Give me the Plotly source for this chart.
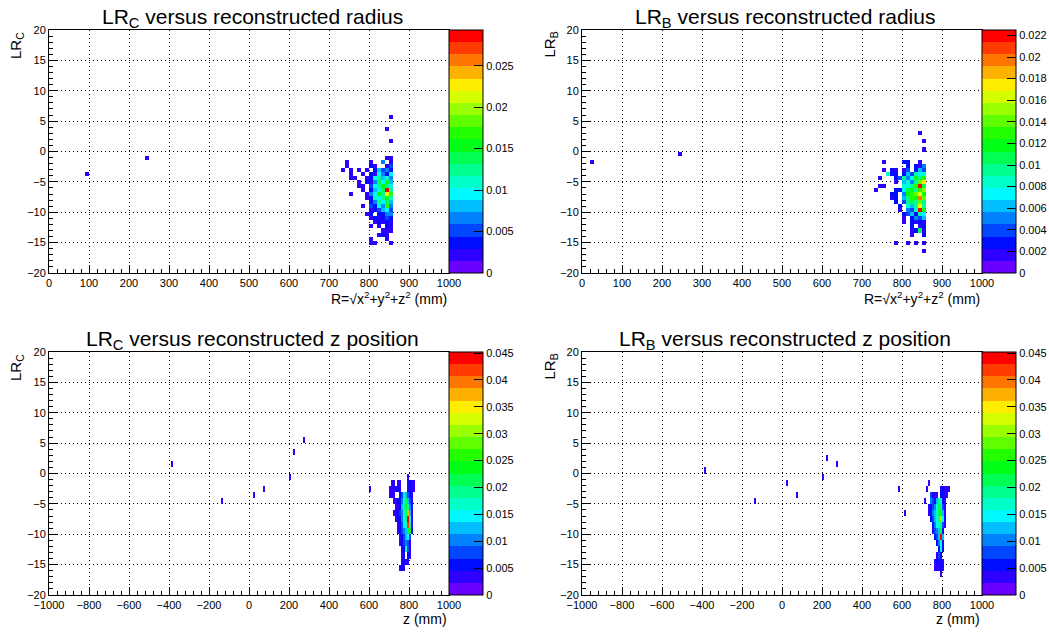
import colorsys
import numpy as np
import plotly.graph_objects as go

W, H = 1049, 633

# ------------------------------------------------------------------ data
# top row: x = reconstructed radius R (mm), bins 10 mm; y = LR, bins 2/3
TOP_COLS = [735, 745, 755, 765, 775, 785, 795, 805, 815, 825, 835, 845, 855]

TL_ROWS = [-1.0, -1.667, -2.333, -3.0, -3.667, -4.333, -5.0, -5.667, -6.333,
           -7.0, -7.667, -8.333, -9.0, -9.667, -10.333, -11.0, -11.667,
           -12.333, -13.0, -13.667, -14.333, -15.0]
# bin contents in units of 1e-3
TL_VALS = [
    [0, 0, 0, 0, 0, 0, 0, 0, 0, 0, 0, 2, 2],
    [0, 2, 0, 0, 0, 0, 0, 2, 0, 0, 6, 0, 2],
    [0, 2, 0, 0, 0, 0, 0, 3, 2, 0, 0, 2, 5],
    [2, 0, 2, 0, 2, 0, 2, 0, 4, 8, 5, 7, 4],
    [0, 0, 2, 0, 0, 2, 0, 3, 2, 10, 7, 4, 9],
    [0, 0, 2, 2, 0, 0, 2, 4, 9, 13, 8, 11, 6],
    [0, 0, 0, 0, 2, 0, 3, 2, 6, 14, 10, 15, 8],
    [0, 0, 0, 0, 2, 2, 0, 5, 10, 12, 16, 13, 10],
    [0, 0, 0, 0, 0, 2, 0, 3, 8, 11, 14, 28, 12],
    [0, 0, 2, 0, 0, 0, 2, 6, 9, 15, 12, 22, 17],
    [0, 0, 0, 0, 0, 0, 2, 4, 11, 10, 13, 16, 11],
    [0, 0, 0, 0, 0, 0, 0, 3, 7, 12, 9, 14, 8],
    [0, 0, 0, 0, 0, 2, 0, 5, 4, 9, 6, 17, 7],
    [0, 0, 0, 0, 0, 0, 0, 2, 3, 5, 8, 10, 5],
    [0, 0, 0, 0, 0, 0, 2, 3, 0, 4, 3, 7, 6],
    [0, 0, 0, 0, 0, 0, 0, 2, 3, 2, 4, 5, 3],
    [0, 0, 0, 0, 0, 0, 0, 0, 2, 3, 2, 4, 2],
    [0, 0, 0, 0, 0, 0, 0, 2, 0, 2, 0, 3, 2],
    [0, 0, 0, 0, 0, 0, 0, 0, 0, 0, 2, 2, 2],
    [0, 0, 0, 0, 0, 0, 0, 0, 0, 2, 3, 2, 0],
    [0, 0, 0, 0, 0, 0, 0, 2, 0, 0, 0, 2, 0],
    [0, 0, 0, 0, 0, 0, 0, 2, 2, 0, 0, 0, 2],
]
TL_ISO_X = [95, 245, 855, 845, 855]
TL_ISO_Y = [-3.667, -1.0, 5.667, 3.667, 1.667]
TL_ISO_V = [2, 2, 2, 2, 2]

TR_ROWS = [-1.667, -2.333, -3.0, -3.667, -4.333, -5.0, -5.667, -6.333, -7.0,
           -7.667, -8.333, -9.0, -9.667, -10.333, -11.0, -11.667, -12.333,
           -13.0, -13.667, -14.333, -15.0, -15.667, -16.333]
TR_VALS = [
    [0, 0, 2, 0, 0, 0, 0, 3, 3, 0, 0, 2, 0],
    [0, 0, 0, 0, 0, 0, 0, 0, 3, 0, 3, 2, 5],
    [0, 0, 2, 0, 3, 2, 0, 2, 4, 0, 3, 6, 4],
    [0, 0, 0, 8, 3, 3, 0, 3, 6, 4, 9, 7, 8],
    [0, 2, 0, 0, 0, 3, 4, 9, 5, 7, 12, 10, 13],
    [0, 0, 0, 0, 0, 2, 0, 6, 8, 5, 9, 14, 17],
    [0, 2, 2, 0, 0, 0, 0, 8, 7, 10, 13, 22, 11],
    [2, 0, 0, 0, 0, 3, 3, 7, 11, 12, 9, 13, 15],
    [0, 0, 0, 0, 3, 3, 0, 5, 12, 13, 14, 16, 12],
    [0, 0, 0, 0, 2, 3, 0, 6, 10, 13, 12, 20, 14],
    [0, 0, 0, 0, 0, 3, 0, 4, 9, 11, 10, 14, 10],
    [0, 0, 0, 0, 0, 0, 3, 0, 8, 6, 9, 17, 9],
    [0, 0, 0, 0, 0, 0, 2, 0, 5, 4, 8, 22, 12],
    [0, 0, 0, 0, 0, 0, 0, 3, 4, 6, 3, 8, 7],
    [0, 0, 0, 0, 0, 0, 0, 2, 0, 3, 5, 4, 6],
    [0, 0, 0, 0, 0, 0, 0, 2, 0, 3, 2, 3, 2],
    [0, 0, 0, 0, 0, 0, 0, 0, 0, 3, 0, 2, 3],
    [0, 0, 0, 0, 0, 0, 0, 0, 0, 2, 3, 11, 2],
    [0, 0, 0, 0, 0, 0, 0, 0, 0, 2, 0, 0, 3],
    [0, 0, 0, 0, 0, 0, 0, 0, 0, 0, 0, 0, 0],
    [0, 0, 0, 0, 0, 2, 0, 0, 2, 0, 2, 0, 2],
    [0, 0, 0, 0, 0, 0, 0, 0, 0, 0, 0, 0, 0],
    [0, 0, 0, 0, 0, 0, 0, 0, 0, 0, 0, 0, 2],
]
TR_ISO_X = [25, 245, 845, 855, 855]
TR_ISO_Y = [-1.667, -0.333, 3.0, 1.667, 0.333]
TR_ISO_V = [2, 2, 2, 2, 2]

# bottom row: x = reconstructed z (mm), bins 10 mm; y = LR, bins 1
BOT_COLS = [705, 715, 725, 735, 745, 755, 765, 775, 785, 795, 805, 815, 825, 835]
BOT_ROWS = [-0.5, -1.5, -2.5, -3.5, -4.5, -5.5, -6.5, -7.5, -8.5, -9.5,
            -10.5, -11.5, -12.5, -13.5, -14.5, -15.5, -16.5]
BL_VALS = [
    [0, 0, 0, 0, 0, 0, 0, 0, 0, 3, 0, 0, 0, 0],
    [0, 3, 3, 0, 3, 3, 0, 0, 0, 3, 5, 3, 3, 0],
    [3, 3, 3, 3, 5, 3, 0, 0, 0, 3, 6, 3, 3, 0],
    [3, 3, 3, 0, 0, 5, 8, 14, 12, 9, 5, 3, 0, 0],
    [0, 0, 3, 3, 5, 6, 10, 16, 22, 12, 8, 3, 0, 0],
    [0, 0, 0, 3, 3, 6, 12, 20, 24, 16, 10, 5, 0, 0],
    [0, 0, 3, 3, 5, 8, 10, 18, 22, 38, 12, 3, 0, 0],
    [0, 0, 0, 3, 5, 6, 11, 16, 20, 44, 15, 5, 0, 0],
    [0, 0, 0, 0, 3, 6, 9, 14, 18, 42, 20, 3, 0, 0],
    [0, 0, 0, 0, 3, 5, 7, 10, 13, 24, 22, 5, 0, 0],
    [0, 0, 0, 0, 0, 3, 6, 8, 12, 15, 9, 0, 0, 0],
    [0, 0, 0, 0, 0, 3, 5, 8, 10, 7, 3, 0, 0, 0],
    [0, 0, 0, 0, 0, 0, 3, 6, 18, 8, 3, 0, 0, 0],
    [0, 0, 0, 0, 0, 0, 3, 5, 0, 6, 3, 0, 0, 0],
    [0, 0, 0, 0, 0, 0, 3, 5, 3, 3, 0, 0, 0, 0],
    [0, 0, 0, 0, 0, 3, 5, 3, 0, 0, 0, 0, 0, 0],
    [0, 0, 0, 0, 0, 0, 0, 0, 0, 0, 0, 0, 0, 0],
]
BL_ISO_X = [-385, -135, 25, 75, 205, 225, 275, 605]
BL_ISO_Y = [1.5, -4.5, -3.5, -2.5, -0.5, 3.5, 5.5, -2.5]
BL_ISO_V = [3, 3, 3, 3, 3, 3, 3, 3]

BR_VALS = [
    [0, 0, 0, 0, 0, 0, 0, 0, 0, 0, 0, 0, 0, 0],
    [0, 0, 0, 3, 0, 0, 0, 0, 0, 0, 0, 0, 0, 0],
    [0, 0, 3, 0, 0, 0, 0, 0, 0, 3, 5, 3, 3, 3],
    [0, 0, 0, 0, 9, 5, 3, 3, 0, 5, 5, 3, 3, 0],
    [0, 3, 0, 0, 10, 8, 6, 12, 20, 18, 6, 3, 0, 0],
    [0, 0, 0, 3, 5, 8, 10, 16, 22, 20, 8, 3, 0, 0],
    [0, 0, 0, 3, 6, 10, 13, 18, 22, 24, 12, 3, 0, 0],
    [0, 0, 0, 0, 5, 8, 12, 17, 20, 30, 15, 5, 0, 0],
    [0, 0, 0, 0, 0, 6, 10, 15, 17, 20, 9, 3, 0, 0],
    [0, 0, 0, 0, 0, 3, 8, 10, 13, 22, 6, 0, 0, 0],
    [0, 0, 0, 0, 0, 0, 5, 8, 12, 44, 12, 0, 0, 0],
    [0, 0, 0, 0, 0, 0, 0, 5, 10, 17, 6, 0, 0, 0],
    [0, 0, 0, 0, 0, 0, 0, 0, 5, 15, 5, 0, 0, 0],
    [0, 0, 0, 0, 0, 0, 0, 3, 8, 5, 0, 0, 0, 0],
    [0, 0, 0, 0, 0, 0, 3, 5, 3, 5, 3, 0, 0, 0],
    [0, 0, 0, 0, 0, 0, 3, 3, 3, 5, 3, 0, 0, 0],
    [0, 0, 0, 0, 0, 0, 0, 0, 0, 3, 0, 0, 0, 0],
]
BR_ISO_X = [-385, -135, 25, 75, 205, 225, 275, 585, 615]
BR_ISO_Y = [0.5, -4.5, -1.5, -3.5, -0.5, 2.5, 1.5, -2.5, -6.5]
BR_ISO_V = [3, 3, 3, 3, 3, 3, 3, 3, 3]

ZMAX = [0.0293, 0.0225, 0.0452, 0.0452]
CB_TICKS = [
    [0, 0.005, 0.01, 0.015, 0.02, 0.025],
    [0, 0.002, 0.004, 0.006, 0.008, 0.01, 0.012, 0.014, 0.016, 0.018, 0.02, 0.022],
    [0, 0.005, 0.01, 0.015, 0.02, 0.025, 0.03, 0.035, 0.04, 0.045],
    [0, 0.005, 0.01, 0.015, 0.02, 0.025, 0.03, 0.035, 0.04, 0.045],
]
TITLES = ["LR<sub>C</sub> versus reconstructed radius",
          "LR<sub>B</sub> versus reconstructed radius",
          "LR<sub>C</sub> versus reconstructed z position",
          "LR<sub>B</sub> versus reconstructed z position"]
YTITLES = ["LR<sub>C</sub>", "LR<sub>B</sub>", "LR<sub>C</sub>", "LR<sub>B</sub>"]
XTITLES = ["R=√x<sup>2</sup>+y<sup>2</sup>+z<sup>2</sup> (mm)"] * 2 + ["z (mm)"] * 2

# ------------------------------------------------------------------ helpers
FONT = "Liberation Sans, Arial, Helvetica, sans-serif"


def build(x0, dx, nx, y0, dy, ny, cols, rows, vals, isx, isy, isv):
    z = np.full((ny, nx), np.nan)

    def put(x, y, v):
        if v <= 0:
            return
        i = int(np.floor((x - x0) / dx + 1e-6))
        j = int(np.floor((y - y0) / dy + 1e-6))
        if 0 <= i < nx and 0 <= j < ny:
            z[j, i] = v * 1e-3

    for r, row in zip(rows, vals):
        for c, v in zip(cols, row):
            put(c, r, v)
    for x, y, v in zip(isx, isy, isv):
        put(x, y, v)
    xc = x0 + dx * (np.arange(nx) + 0.5)
    yc = y0 + dy * (np.arange(ny) + 0.5)
    return xc, yc, z


NB = 20
band_cols = []
for i in range(NB):
    hue = 265.0 * (1 - i / (NB - 1)) / 360.0
    r, g, b = colorsys.hls_to_rgb(hue, 0.5, 1.0)
    band_cols.append(f"rgb({int(r*255)},{int(g*255)},{int(b*255)})")
CSCALE = []
for i, c in enumerate(band_cols):
    CSCALE.append([i / NB, c])
    CSCALE.append([(i + 1) / NB, c])

# pixel geometry of panels
PX = [(49, 449), (582, 982), (49, 449), (582, 982)]
PY = [(30, 273), (30, 273), (352, 595), (352, 595)]

datasets = [
    build(0, 10, 100, -20, 2 / 3, 60, TOP_COLS, TL_ROWS, TL_VALS, TL_ISO_X, TL_ISO_Y, TL_ISO_V),
    build(0, 10, 100, -20, 2 / 3, 60, TOP_COLS, TR_ROWS, TR_VALS, TR_ISO_X, TR_ISO_Y, TR_ISO_V),
    build(-1000, 10, 200, -20, 1, 40, BOT_COLS, BOT_ROWS, BL_VALS, BL_ISO_X, BL_ISO_Y, BL_ISO_V),
    build(-1000, 10, 200, -20, 1, 40, BOT_COLS, BOT_ROWS, BR_VALS, BR_ISO_X, BR_ISO_Y, BR_ISO_V),
]

fig = go.Figure()
layout = dict(width=W, height=H,
              margin=dict(l=0, r=0, t=0, b=0, pad=0, autoexpand=False),
              paper_bgcolor="white", plot_bgcolor="white", showlegend=False,
              font=dict(family=FONT, color="black"))
annotations = []

for k in range(4):
    xc, yc, z = datasets[k]
    (xl, xr), (yt, yb) = PX[k], PY[k]
    xd = [xl / W, xr / W]
    yd = [1 - yb / H, 1 - yt / H]
    sx = "" if k == 0 else str(k + 1)
    tv = CB_TICKS[k]
    tt = [("%g" % v) for v in tv]
    fig.add_trace(go.Heatmap(
        x=xc, y=yc, z=z, zmin=0, zmax=ZMAX[k], colorscale=CSCALE,
        hoverongaps=False, xaxis="x" + sx, yaxis="y" + sx,
        colorbar=dict(x=xr / W, xanchor="left", xpad=0, ypad=0,
                      y=(yd[0] + yd[1]) / 2, yanchor="middle",
                      len=yb - yt, lenmode="pixels", thickness=34,
                      thicknessmode="pixels", outlinewidth=1, outlinecolor="black",
                      tickvals=tv, ticktext=tt, ticks="inside", ticklen=9,
                      tickcolor="black", tickwidth=1,
                      tickfont=dict(family=FONT, size=11, color="black"))))
    top = k < 2
    xaxis = dict(domain=xd, anchor="y" + sx,
                 range=[0, 1000] if top else [-1000, 1000],
                 tick0=0, dtick=100 if top else 200,
                 minor=dict(ticks="inside", ticklen=4, dtick=20 if top else 40,
                            tickcolor="black", showgrid=False),
                 ticks="inside", ticklen=8, tickcolor="black", tickwidth=1,
                 showline=True, mirror=True, linecolor="black", linewidth=1,
                 showgrid=True, gridcolor="black", griddash="1px,3px", gridwidth=1,
                 zeroline=False, fixedrange=True, automargin=False,
                 tickfont=dict(family=FONT, size=11, color="black"))
    yaxis = dict(domain=yd, anchor="x" + sx, range=[-20, 20], tick0=0, dtick=5,
                 minor=dict(ticks="inside", ticklen=4, dtick=1,
                            tickcolor="black", showgrid=False),
                 ticks="inside", ticklen=8, tickcolor="black", tickwidth=1,
                 showline=True, mirror=True, linecolor="black", linewidth=1,
                 showgrid=True, gridcolor="black", griddash="1px,3px", gridwidth=1,
                 zeroline=False, fixedrange=True, automargin=False,
                 tickfont=dict(family=FONT, size=11, color="black"))
    layout["xaxis" + sx] = xaxis
    layout["yaxis" + sx] = yaxis

    # panel title
    annotations.append(dict(text=TITLES[k], xref="paper", yref="paper",
                            x=(xl + 203) / W, y=1 - (yt - 27) / H,
                            xanchor="center", yanchor="top", showarrow=False,
                            font=dict(family=FONT, size=21, color="black")))
    # y title
    annotations.append(dict(text=YTITLES[k], xref="paper", yref="paper",
                            x=(xl - 44) / W, y=1 - yt / H, textangle=-90,
                            xanchor="left", yanchor="top", showarrow=False,
                            font=dict(family=FONT, size=15, color="black")))
    # x title
    annotations.append(dict(text=XTITLES[k], xref="paper", yref="paper",
                            x=xr / W, y=1 - (yb + 14) / H,
                            xanchor="right", yanchor="top", showarrow=False,
                            font=dict(family=FONT, size=14, color="black")))

layout["annotations"] = annotations
fig.update_layout(**layout)
fig.write_html("out.html", config={"displayModeBar": False},
               post_script="document.body.style.margin='0';"
                           "document.body.style.overflow='hidden';")
